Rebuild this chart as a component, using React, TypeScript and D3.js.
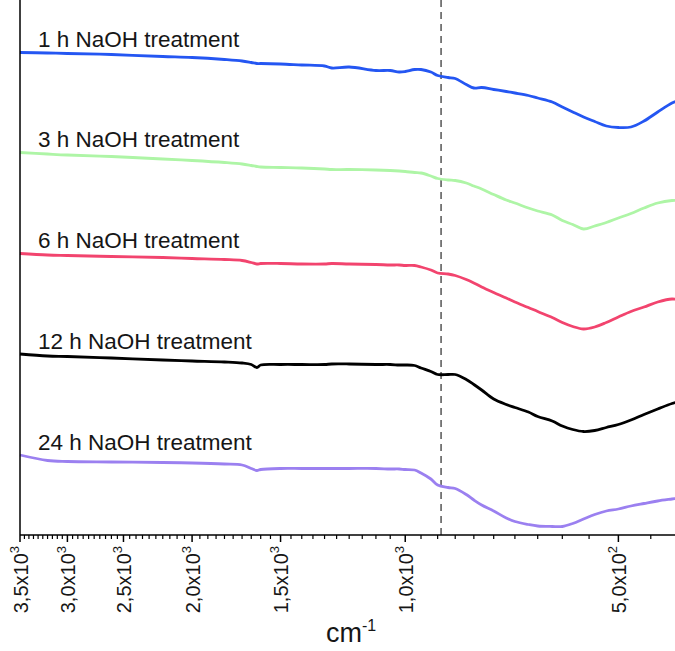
import * as d3 from 'd3';
import React from 'react';

const width = 675;
const height = 651;
const margin = { top: 0, left: 20, bottom: 535 };

// wavenumbers (cm-1) at which the spectra are sampled
const wavenumbers = [3500, 3200, 3000, 2600, 2200, 2000, 1800, 1700, 1650, 1620, 1600, 1500, 1400, 1300, 1270, 1200,
  1100, 1050, 1020, 1000, 970, 950, 920, 900, 870, 850, 820, 800, 780, 750, 720, 700, 670, 650, 620, 600, 580, 560,
  540, 520, 500, 480, 460, 440, 420, 410];

// transmittance, arbitrary units, stacked with offsets
const t1h = [96.5, 96.4, 96.3, 96.1, 95.7, 95.5, 95.1, 94.8, 94.5, 94.3, 94.3, 94.2, 94.0, 93.8, 93.4, 93.6,
  92.9, 92.9, 92.6, 92.7, 93.1, 93.1, 92.6, 91.9, 91.5, 91.3, 90.1, 89.4, 89.5, 89.1, 88.7, 88.4, 87.9, 87.4, 86.6,
  85.6, 84.6, 83.6, 82.7, 81.8, 81.5, 81.6, 82.8, 84.6, 86.4, 87.0];
const t3h = [76.5, 76.2, 76.0, 75.7, 75.2, 74.9, 74.5, 74.2, 73.9, 73.7, 73.6, 73.5, 73.4, 73.2, 73.1, 73.1,
  73.0, 72.9, 72.8, 72.7, 72.5, 72.4, 71.8, 71.3, 71.0, 70.9, 70.4, 69.8, 69.2, 68.1, 67.0, 66.4, 65.4, 64.8, 64.0,
  62.9, 62.1, 61.2, 61.8, 62.5, 63.4, 64.3, 65.4, 66.4, 66.9, 66.9];
const t6h = [56.3, 56.0, 55.9, 55.7, 55.5, 55.3, 55.1, 54.9, 54.5, 54.2, 54.3, 54.3, 54.2, 54.2, 54.3, 54.2,
  54.1, 54.0, 54.0, 53.9, 53.9, 53.6, 53.0, 52.4, 52.2, 51.9, 51.1, 50.4, 49.6, 48.5, 47.4, 46.6, 45.5, 44.7, 43.5,
  42.5, 41.7, 41.2, 41.6, 42.5, 43.6, 44.7, 45.6, 46.6, 47.2, 47.0];
const t12h = [36.2, 35.8, 35.7, 35.4, 35.0, 34.8, 34.6, 34.4, 34.1, 33.5, 34.0, 34.1, 34.1, 34.1, 34.2, 34.2,
  34.1, 34.1, 34.0, 34.0, 33.9, 33.4, 32.7, 32.1, 32.1, 32.1, 31.1, 30.1, 29.0, 27.2, 26.1, 25.5, 24.6, 23.7, 22.8,
  21.8, 21.1, 20.7, 20.9, 21.5, 22.1, 23.0, 24.1, 25.2, 26.3, 26.7];
const t24h = [16.0, 14.9, 14.7, 14.6, 14.5, 14.4, 14.2, 14.0, 13.3, 12.9, 13.1, 13.3, 13.3, 13.3, 13.3, 13.3,
  13.3, 13.2, 13.2, 13.1, 13.0, 12.4, 11.2, 10.0, 9.5, 9.3, 8.1, 7.0, 6.0, 4.8, 3.4, 2.7, 2.1, 1.8, 1.7,
  1.7, 2.3, 3.2, 4.1, 4.8, 5.2, 5.8, 6.3, 6.8, 7.2, 7.4];

const seriesNames = ['1 h NaOH treatment', '3 h NaOH treatment', '6 h NaOH treatment', '12 h NaOH treatment', '24 h NaOH treatment'];
const seriesValues = [t1h, t3h, t6h, t12h, t24h];
const seriesColors = ['#2456f2', '#aef5a6', '#f2446e', '#000000', '#9b80f0'];

const majorTicks = [3500, 3000, 2500, 2000, 1500, 1000, 500];
const tickMantissa = ['3,5x10', '3,0x10', '2,5x10', '2,0x10', '1,5x10', '1,0x10', '5,0x10'];
const tickExponent = ['3', '3', '3', '3', '3', '3', '2'];
const minorTicks = d3.range(400, 3501, 50).filter(v => !majorTicks.includes(v));
const markerLine = 890;

const font = '"Liberation Sans", Arial, sans-serif';

const App = () => {
  const xScale = d3.scaleLog().domain([3500, 400]).range([margin.left, 687]);
  const yScale = d3.scaleLinear().domain([0, 107]).range([margin.bottom, margin.top]);

  const lineGenerator = d3.line<number>()
    .x((_, i) => xScale(wavenumbers[i]))
    .y(d => yScale(d))
    .curve(d3.curveCatmullRom.alpha(0.5));

  return (
    <div style={{ position: 'absolute', left: 0, top: 0 }}>
      <svg width={width} height={height} style={{ display: 'block', background: '#fff' }}>
        <line x1={xScale(markerLine)} x2={xScale(markerLine)} y1={0} y2={margin.bottom}
          stroke="#555" strokeWidth={1.5} strokeDasharray="7,5" />

        {seriesValues.map((vals, i) => (
          <g key={seriesNames[i]}>
            <path d={lineGenerator(vals) || ''} fill="none" stroke={seriesColors[i]} strokeWidth={2.8} />
            <text x={38} y={yScale(vals[0]) - 5.5} fontFamily={font} fontSize={22.5} fill="#161616">
              {seriesNames[i]}
            </text>
          </g>
        ))}

        {/* axes */}
        <line x1={margin.left} x2={margin.left} y1={0} y2={margin.bottom} stroke="#000" strokeWidth={1.5} />
        <line x1={margin.left} x2={width} y1={margin.bottom} y2={margin.bottom} stroke="#000" strokeWidth={1.5} />
        {minorTicks.map(v => (
          <line key={v} x1={xScale(v)} x2={xScale(v)} y1={margin.bottom} y2={margin.bottom + 4} stroke="#000" strokeWidth={1.2} />
        ))}
        {majorTicks.map((v, i) => (
          <g key={v} transform={`translate(${xScale(v)},0)`}>
            <line y1={margin.bottom} y2={margin.bottom + 7} stroke="#000" strokeWidth={1.5} />
            <text transform={`translate(7.5,546) rotate(-90)`} textAnchor="end" fontFamily={font} fontSize={20} fill="#161616">
              {tickMantissa[i]}
              <tspan fontSize={13} dy={-9}>{tickExponent[i]}</tspan>
            </text>
          </g>
        ))}
        <text x={326} y={642} fontFamily={font} fontSize={27} fill="#161616">
          cm<tspan fontSize={16} dy={-11}>-1</tspan>
        </text>
      </svg>
    </div>
  );
};

export default App;
